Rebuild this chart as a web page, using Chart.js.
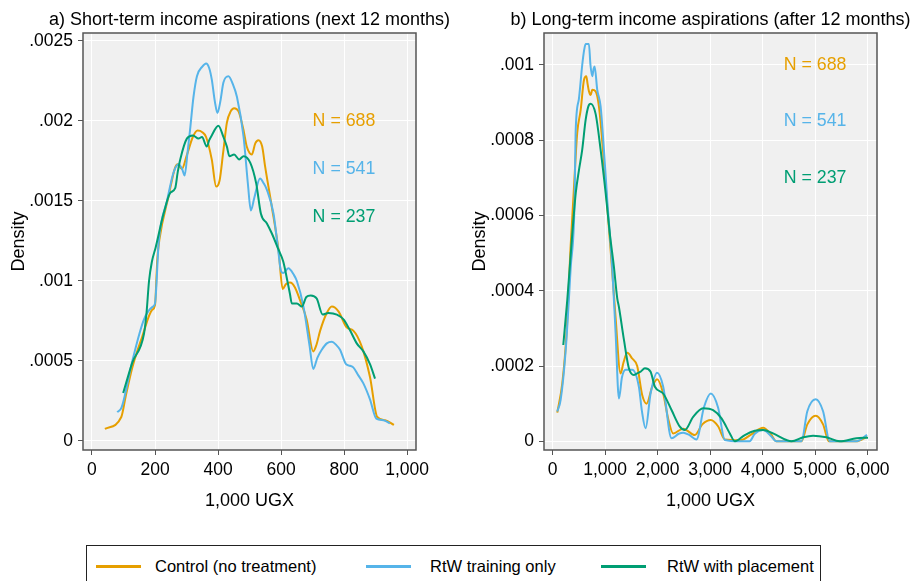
<!DOCTYPE html>
<html>
<head>
<meta charset="utf-8">
<script src="https://cdn.jsdelivr.net/npm/chart.js@4.4.0/dist/chart.umd.min.js"></script>
<style>
  body { margin: 0; background: #fff; font-family: "Liberation Sans", Arial, sans-serif; }
  #wrap { position: relative; width: 913px; height: 581px; overflow: hidden; }
  .panel { position: absolute; top: 0; }
  #legend { position: absolute; left: 86px; top: 545px; width: 735px; height: 45px;
            border: 1px solid #222; box-sizing: border-box; font-size: 16.5px; color: #000; }
  .item { position: absolute; top: 10px; height: 20px; line-height: 20px; white-space: nowrap; }
  .item i { position: absolute; top: 9px; width: 45px; height: 3px; }
  .item span { position: absolute; }
</style>
</head>
<body>
<div id="wrap">
  <div class="panel" style="left:0"><canvas id="shortTerm" width="461" height="540"></canvas></div>
  <div class="panel" style="left:461px"><canvas id="longTerm" width="452" height="540"></canvas></div>
  <div id="legend"></div>
</div>
<script>
var seriesNames = ["Control (no treatment)", "RtW training only", "RtW with placement"];
var seriesColors = ["#E69F00", "#56B4E9", "#009E73"];
var sampleSizes = ["N = 688", "N = 541", "N = 237"];

// a) short-term, [1,000 UGX, density]
var shortControl = [[41,0.000075],[93,0.00015],[107,0.00028],[128,0.00046],[159,0.00065],[191,0.00082],[200,0.00085],[207,0.00113],[214,0.00126],[243,0.00153],[264,0.00171],[272,0.00173],[285,0.0017],[300,0.00178],[320,0.0019],[335,0.00194],[350,0.00193],[362,0.0019],[380,0.00176],[394,0.00159],[405,0.00163],[416,0.0018],[428,0.00199],[440,0.00206],[451,0.00208],[465,0.00206],[480,0.00195],[491,0.00184],[500,0.0018],[507,0.00179],[518,0.00186],[528,0.00188],[540,0.00184],[549,0.00172],[570,0.00147],[592,0.00119],[605,0.00095],[615,0.00098],[628,0.00099],[644,0.00096],[660,0.00088],[681,0.00076],[702,0.00056],[712,0.0006],[724,0.00069],[745,0.0008],[761,0.00084],[782,0.00081],[808,0.00071],[829,0.00069],[856,0.00059],[882,0.0004],[905,0.00015],[930,0.00013],[958,0.0001]];
var shortTraining = [[80,0.00018],[94,0.00021],[128,0.0005],[165,0.00076],[193,0.00084],[200,0.00086],[212,0.00125],[238,0.0015],[259,0.00168],[275,0.00173],[286,0.0017],[294,0.00166],[303,0.0018],[312,0.00196],[322,0.00215],[333,0.00228],[350,0.00234],[362,0.00236],[372,0.00233],[380,0.00226],[390,0.00212],[398,0.00205],[407,0.00212],[417,0.00224],[433,0.00228],[447,0.00223],[460,0.00215],[481,0.0019],[495,0.0016],[504,0.00144],[515,0.00152],[533,0.00164],[545,0.00161],[555,0.00157],[576,0.00142],[591,0.00119],[600,0.00106],[607,0.00105],[623,0.00108],[640,0.00104],[650,0.001],[671,0.00084],[690,0.0006],[702,0.00045],[715,0.00052],[729,0.00057],[745,0.00061],[761,0.00062],[775,0.0006],[787,0.00057],[806,0.00048],[818,0.00047],[829,0.00046],[845,0.00041],[861,0.00036],[882,0.00026],[902,0.00014],[925,0.00013],[945,0.00011]];
var shortPlacement = [[99,0.0003],[128,0.00049],[165,0.00067],[173,0.0008],[181,0.001],[190,0.00112],[202,0.00121],[227,0.00142],[248,0.00155],[264,0.00158],[272,0.00168],[280,0.00176],[301,0.00189],[320,0.00191],[338,0.00189],[349,0.0019],[364,0.00184],[372,0.00188],[380,0.00191],[401,0.00197],[417,0.0019],[428,0.00184],[436,0.00178],[451,0.00179],[467,0.00176],[481,0.00178],[502,0.00174],[521,0.00161],[536,0.00142],[555,0.00136],[570,0.0013],[591,0.0012],[607,0.00112],[620,0.001],[628,0.00092],[634,0.00086],[650,0.00086],[666,0.00084],[680,0.0009],[694,0.00091],[713,0.00089],[732,0.00079],[750,0.0008],[777,0.00079],[798,0.00076],[819,0.00069],[840,0.00061],[861,0.00056],[882,0.00048],[898,0.00039]];

// b) long-term
var longControl = [[88,0.000076],[183,0.000154],[266,0.00029],[343,0.00052],[400,0.00066],[468,0.00082],[533,0.00088],[596,0.00096],[640,0.00097],[665,0.00095],[691,0.00093],[723,0.00092],[754,0.000934],[818,0.00093],[881,0.00089],[960,0.00077],[1040,0.000624],[1103,0.00051],[1198,0.00033],[1293,0.00018],[1350,0.00021],[1420,0.000235],[1515,0.00022],[1610,0.0002],[1705,0.000123],[1789,0.0001],[1896,0.000145],[1990,0.000165],[2105,0.000127],[2200,0.00006],[2295,0.000021],[2486,0.0000335],[2708,0.0000167],[2850,0.000045],[3012,0.0000566],[3150,0.00004],[3279,0.000005],[3580,0.000003],[3800,0.00002],[4008,0.000036],[4150,0.00002],[4262,0],[4738,0],[4850,0.000045],[5010,0.000068],[5150,0.000045],[5260,0],[5785,0],[5987,0.000012]];
var longTraining = [[88,0.000079],[152,0.00011],[247,0.00024],[343,0.00046],[418,0.00064],[437,0.00082],[500,0.00091],[563,0.001],[600,0.00104],[628,0.001056],[690,0.001056],[720,0.001],[754,0.00097],[780,0.00099],[799,0.000996],[849,0.000934],[913,0.00089],[976,0.000775],[1040,0.00064],[1135,0.00046],[1198,0.00029],[1262,0.000114],[1320,0.00017],[1389,0.00019],[1515,0.00019],[1642,0.000145],[1700,0.00008],[1770,0.0000345],[1865,0.000127],[1990,0.000182],[2105,0.000145],[2264,0.000008],[2400,0.00002],[2486,0.000023],[2600,0.000017],[2740,0.000005],[2880,0.00009],[3012,0.000127],[3150,0.00009],[3279,0.0000035],[3564,0],[3750,0],[3850,0.00002],[4008,0.00003],[4150,0.000015],[4262,0],[4738,0],[4850,0.00008],[5010,0.000112],[5150,0.00008],[5277,0],[5785,0],[5987,0.000017]];
var longPlacement = [[202,0.000256],[278,0.000375],[373,0.00055],[440,0.00066],[500,0.00072],[563,0.000775],[628,0.000854],[680,0.00089],[723,0.000897],[818,0.00087],[913,0.000775],[1009,0.00066],[1090,0.00055],[1166,0.000464],[1230,0.00038],[1262,0.000357],[1357,0.00027],[1452,0.000194],[1547,0.000176],[1598,0.00018],[1675,0.000185],[1756,0.000194],[1865,0.000185],[1947,0.000145],[2105,0.000127],[2264,0.000083],[2422,0.000039],[2517,0.00003],[2676,0.000065],[2866,0.000088],[3056,0.000083],[3216,0.000061],[3374,0.000021],[3469,0],[3659,0.0000167],[3850,0.000028],[4008,0.00003],[4198,0.000021],[4453,0.0000035],[4548,0],[4770,0.0000106],[4960,0.000015],[5214,0.0000106],[5467,0],[5785,0.000008],[6006,0.0000096]];

var shortXTicks = [0, 200, 400, 600, 800, 1000];
var shortXLabels = ["0", "200", "400", "600", "800", "1,000"];
var shortYTicks = [0, 0.0005, 0.001, 0.0015, 0.002, 0.0025];
var shortYLabels = ["0", ".0005", ".001", ".0015", ".002", ".0025"];
var longXTicks = [0, 1000, 2000, 3000, 4000, 5000, 6000];
var longXLabels = ["0", "1,000", "2,000", "3,000", "4,000", "5,000", "6,000"];
var longYTicks = [0, 0.0002, 0.0004, 0.0006, 0.0008, 0.001];
var longYLabels = ["0", ".0002", ".0004", ".0006", ".0008", ".001"];

var FAMILY = "'Liberation Sans', Arial, sans-serif";
var TICK_FONT = { family: FAMILY, size: 17.5 };
var AXIS_FONT = { family: FAMILY, size: 18 };

// grey plot region, frame, panel title and N labels
var panelDeco = {
  id: 'panelDeco',
  beforeDraw: function(chart) {
    var a = chart.chartArea, ctx = chart.ctx;
    ctx.save();
    ctx.fillStyle = '#f0f0f0';
    ctx.fillRect(a.left, a.top, a.right - a.left, a.bottom - a.top);
    ctx.restore();
  },
  afterDraw: function(chart, args, opts) {
    var a = chart.chartArea, ctx = chart.ctx;
    ctx.save();
    ctx.strokeStyle = '#555555';
    ctx.lineWidth = 1.5;
    ctx.strokeRect(a.left, a.top, a.right - a.left, a.bottom - a.top);
    ctx.fillStyle = '#000';
    ctx.textAlign = 'center';
    ctx.textBaseline = 'middle';
    ctx.font = '18px ' + FAMILY;
    ctx.fillText(opts.title, (a.left + a.right) / 2, 20);
    ctx.textAlign = 'left';
    ctx.font = '17.8px ' + FAMILY;
    sampleSizes.forEach(function(t, i) {
      ctx.fillStyle = seriesColors[i];
      ctx.fillText(t, chart.scales.x.getPixelForValue(opts.labelX),
                   chart.scales.y.getPixelForValue(opts.labelY[i]));
    });
    ctx.restore();
  }
};

function toPoints(arr) { return arr.map(function(p) { return { x: p[0], y: p[1] }; }); }

function makeChart(id, series, title, xr, yr, xTicks, xLabels, yTicks, yLabels, padRight, labelX, labelY) {
  return new Chart(document.getElementById(id), {
    type: 'line',
    data: {
      datasets: series.map(function(s, i) {
        return {
          label: seriesNames[i],
          data: toPoints(s),
          borderColor: seriesColors[i],
          borderWidth: 2,
          pointRadius: 0,
          fill: false,
          cubicInterpolationMode: 'monotone',
          order: 2 - i
        };
      })
    },
    options: {
      responsive: false,
      animation: false,
      layout: { padding: { left: 0, top: 33, right: padRight, bottom: 20 } },
      plugins: {
        legend: { display: false },
        tooltip: { enabled: false },
        panelDeco: { title: title, labelX: labelX, labelY: labelY }
      },
      scales: {
        x: {
          type: 'linear', min: xr[0], max: xr[1],
          afterBuildTicks: function(s) { s.ticks = xTicks.map(function(v) { return { value: v }; }); },
          afterFit: function(s) { s.height = 70; },
          grid: { color: '#ffffff', lineWidth: 1, tickLength: 5, tickColor: '#555555' },
          border: { display: false },
          ticks: {
            color: '#000', font: TICK_FONT, padding: 5, maxRotation: 0, autoSkip: false,
            callback: function(v) { return xLabels[xTicks.indexOf(v)]; }
          },
          title: { display: true, text: '1,000 UGX', color: '#000', font: AXIS_FONT, padding: { top: 4, bottom: 8 } }
        },
        y: {
          type: 'linear', min: yr[0], max: yr[1],
          afterBuildTicks: function(s) { s.ticks = yTicks.map(function(v) { return { value: v }; }); },
          afterFit: function(s) { s.width = 83; },
          grid: { color: '#ffffff', lineWidth: 1, tickLength: 5, tickColor: '#555555' },
          border: { display: false },
          ticks: {
            color: '#000', font: TICK_FONT, padding: 5, autoSkip: false,
            callback: function(v) { return yLabels[yTicks.indexOf(v)]; }
          },
          title: { display: true, text: 'Density', color: '#000', font: AXIS_FONT, padding: { top: 8, bottom: 0 } }
        }
      }
    },
    plugins: [panelDeco]
  });
}

makeChart('shortTerm', [shortControl, shortTraining, shortPlacement],
  'a) Short-term income aspirations (next 12 months)',
  [-28.5, 1028], [-0.0000563, 0.00255],
  shortXTicks, shortXLabels, shortYTicks, shortYLabels, 45, 700, [0.002, 0.0017, 0.0014]);

makeChart('longTerm', [longControl, longTraining, longPlacement],
  'b) Long-term income aspirations (after 12 months)',
  [-165, 6177], [-0.0000231, 0.001085],
  longXTicks, longXLabels, longYTicks, longYLabels, 36, 4400, [0.001, 0.00085, 0.0007]);

// shared legend
var legendPos = [[9, 68], [279, 343], [514, 580]];
var legend = document.getElementById('legend');
seriesNames.forEach(function(name, i) {
  var item = document.createElement('div');
  item.className = 'item';
  item.style.left = legendPos[i][0] + 'px';
  item.innerHTML = '<i style="left:0;background:' + seriesColors[i] + '"></i>' +
                   '<span style="left:' + (legendPos[i][1] - legendPos[i][0]) + 'px">' + name + '</span>';
  legend.appendChild(item);
});
</script>
</body>
</html>
